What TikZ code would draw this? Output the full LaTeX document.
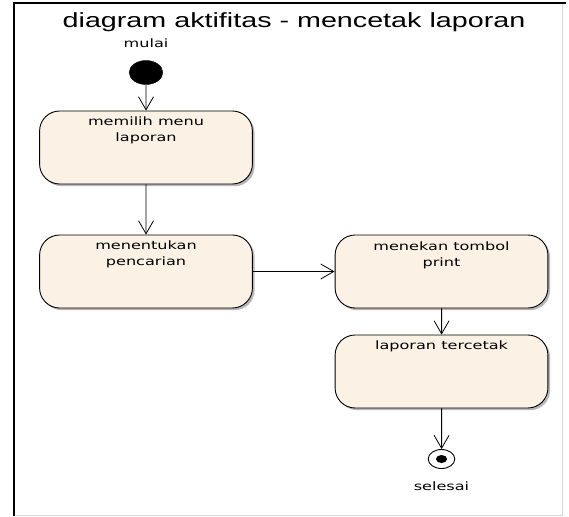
\documentclass[tikz,border=0pt]{standalone}
\usepackage{fontspec}
\usetikzlibrary{arrows.meta,shadows}
\newfontfamily\titlefont{Liberation Sans}
\newfontfamily\uifont{DejaVu Sans}
\definecolor{actfill}{RGB}{251,241,228}
\definecolor{framegrey}{RGB}{215,215,215}
\tikzset{
  actbox/.style={draw=black, line width=0.9pt, fill=actfill, rounded corners=20pt,
    minimum width=152pt, minimum height=73pt, inner sep=0pt,
    drop shadow={shadow xshift=2.2pt, shadow yshift=-2.2pt, fill=black!35, opacity=0.8}},
  actlabel/.style={anchor=north, inner sep=0pt, align=center,
    font=\uifont\fontsize{11.5}{16}\selectfont},
  smalllabel/.style={anchor=base, inner sep=0pt, font=\uifont\fontsize{11.5}{16}\selectfont},
  startnode/.style={circle, fill=black, draw=black, minimum size=24pt, inner sep=0pt},
  endnode/.style={circle, draw=black, line width=0.9pt, fill=white, minimum size=19pt, inner sep=0pt},
  enddot/.style={circle, fill=black, minimum size=8pt, inner sep=0pt},
  flow/.style={draw=black, line width=0.9pt,
    -{Straight Barb[length=13pt, width=15pt, line width=0.8pt]}},
}
\begin{document}
\begin{tikzpicture}[x=0.7142857pt, y=-1pt]
\begin{scope}[xscale=1.4, every node/.append style={transform shape}]
  \useasboundingbox (0,0) rectangle (569,516);
  \fill[white] (0,0) rectangle (569,516);
  % window frame
  \draw[framegrey, line width=1pt] (562,3) -- (562,515) -- (14,515);
  \draw[black, line width=1.6pt] (14,516) -- (14,3) -- (566,3);

  % title
  \node[anchor=base, inner sep=0pt, font=\titlefont\fontsize{20.5}{24}\selectfont] (title) at (294,28)
    {diagram aktifitas - mencetak laporan};

  % start
  \node[smalllabel] (mulai) at (146,48) {mulai};
  \node[startnode] (start) at (146,72.5) {};

  % activities
  \node[actbox] (n1) at (146,147.5) {};
  \node[actlabel] (t1) at ([yshift=-6pt]n1.north) {memilih menu\\laporan};

  \node[actbox] (n2) at (146,271.5) {};
  \node[actlabel] (t2) at ([yshift=-6pt]n2.north) {menentukan\\pencarian};

  \node[actbox] (n3) at (441.5,271.5) {};
  \node[actlabel] (t3) at ([yshift=-7pt]n3.north) {menekan tombol\\print};

  \node[actbox] (n4) at (441.5,371.5) {};
  \node[actlabel] (t4) at ([yshift=-6pt]n4.north) {laporan tercetak};

  % end
  \node[endnode] (stop) at (441.5,459) {};
  \node[enddot] (stopdot) at (stop.center) {};
  \node[smalllabel] (selesai) at (441.5,490) {selesai};

  % transitions
  \draw[flow] (start) -- (n1);
  \draw[flow] (n1) -- (n2);
  \draw[flow] (n2) -- (n3);
  \draw[flow] (n3) -- (n4);
  \draw[flow] (n4) -- (stop);
\end{scope}
\end{tikzpicture}
\end{document}
